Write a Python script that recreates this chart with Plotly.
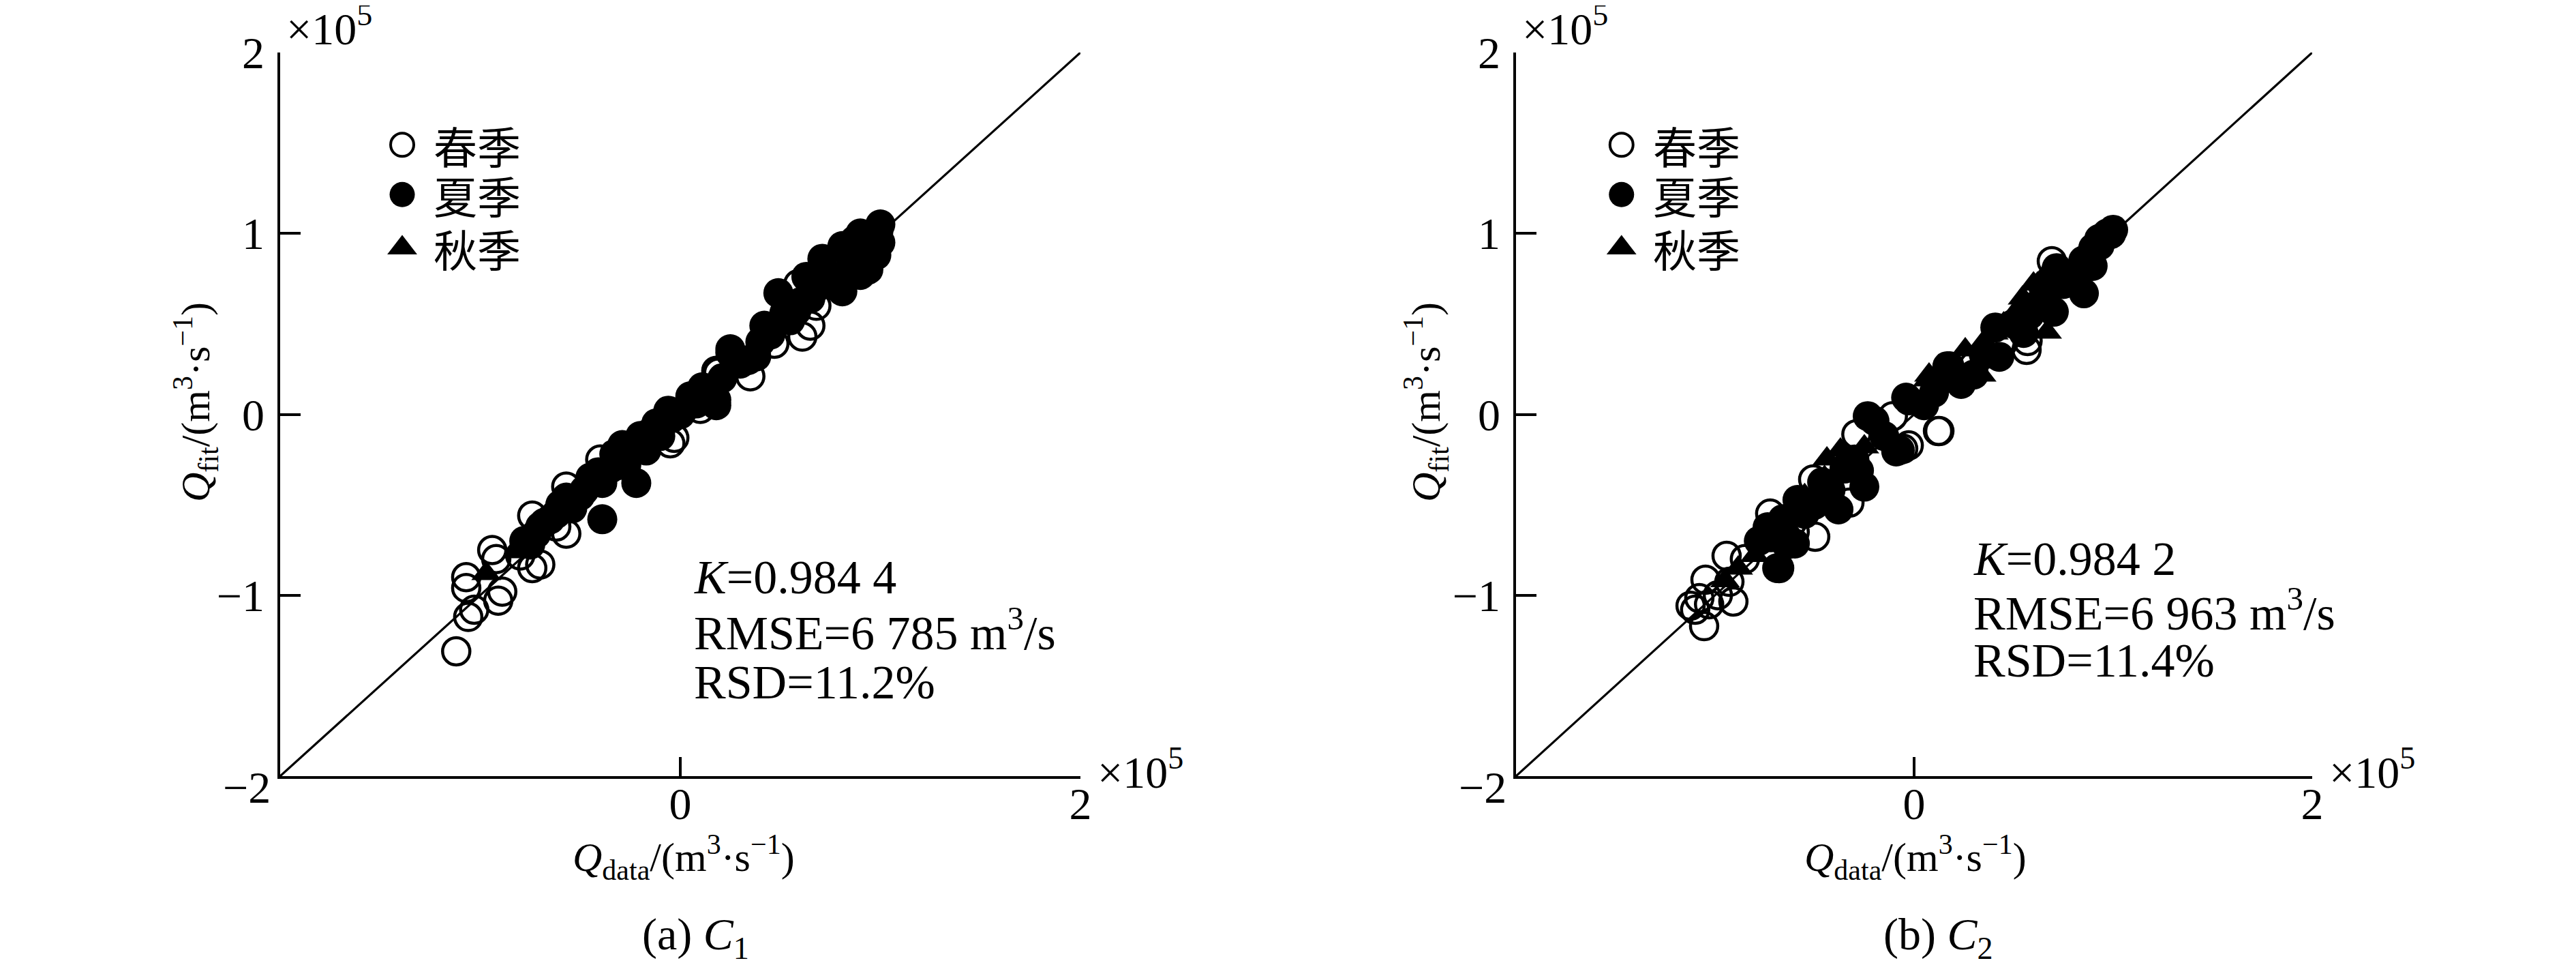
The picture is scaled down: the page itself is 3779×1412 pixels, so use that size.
import plotly.graph_objects as go

W, H = 3779, 1412
OFF = 8  # page body margin in the browser


def px(xp):
    return (xp - OFF) / W


def py(yp):
    return 1 - (yp - OFF) / H


# 1:1 fitting line, units 1e5 m3/s
fit_x = [-2, -1.5, -1, -0.5, 0, 0.5, 1, 1.5, 2]
fit_y = [-2, -1.5, -1, -0.5, 0, 0.5, 1, 1.5, 2]

seasons = ["春季", "夏季", "秋季"]

# ---- (a) C1 ----
a_spring_x = [-1.12, -1.07, -1.07, -1.06, -1.03, -0.94, -0.92, -0.89, -0.91, -0.74, -0.74, -0.70, -0.57, -0.57,
              -0.40, -0.05, 0.19, 0.10, 0.61, 0.65, 0.35, -0.03, 0.01, 0.47, 0.18, 0.59, 0.68, 0.80, -0.80, -0.62]
a_spring_y = [-1.31, -0.90, -0.96, -1.12, -1.08, -0.75, -0.80, -0.98, -1.03, -0.56, -0.85, -0.83, -0.66, -0.40,
              -0.25, -0.16, 0.23, 0.03, 0.43, 0.49, 0.21, -0.13, 0.02, 0.39, 0.24, 0.72, 0.60, 0.80, -0.78, -0.62]
a_summer_x = [-0.78, -0.72, -0.65, -0.57, -0.54, -0.41, -0.39, -0.39, -0.29, -0.22, -0.17, -0.12, -0.04, -0.06,
              0.11, 0.11, 0.18, 0.18, 0.25, 0.25, 0.38, 0.42, 0.49, 0.58, 0.63, 0.65, 0.71, 0.81, 0.81, 0.89,
              0.90, 0.90, 0.97, 0.99, 1.00, 0.95, 0.85, 0.75, 0.55, -0.30, -0.48, -0.60, -0.70, 0.30, 0.05,
              -0.10, 0.98, 0.93,
              -0.75, -0.68, -0.62, -0.50, -0.45, -0.35, -0.33, -0.27, -0.20, -0.15, 0.00, 0.08, 0.14, 0.21,
              0.34, 0.40, 0.45, 0.52, 0.60, 0.68, 0.73, 0.78, 0.84, 0.87, 0.92, 0.96, 1.00, 0.94]
a_summer_y = [-0.70, -0.66, -0.58, -0.46, -0.52, -0.32, -0.38, -0.58, -0.17, -0.38, -0.20, -0.05, -0.02, 0.02,
              0.12, 0.15, 0.05, 0.08, 0.34, 0.36, 0.32, 0.49, 0.67, 0.57, 0.76, 0.64, 0.86, 0.93, 0.68, 0.82,
              0.77, 1.00, 0.91, 1.01, 1.05, 0.95, 0.80, 0.72, 0.52, -0.28, -0.42, -0.50, -0.62, 0.28, 0.10,
              -0.12, 0.88, 0.85,
              -0.72, -0.60, -0.55, -0.45, -0.35, -0.30, -0.22, -0.28, -0.12, -0.10, 0.00, 0.06, 0.10, 0.20,
              0.30, 0.40, 0.44, 0.56, 0.62, 0.70, 0.78, 0.74, 0.90, 0.96, 0.92, 1.00, 0.95, 0.80]
a_autumn_x = [-0.97, -0.82, -0.62, -0.45, -0.25, 0.02, 0.32, 0.55, 0.72, 0.85]
a_autumn_y = [-0.88, -0.76, -0.55, -0.40, -0.22, 0.04, 0.30, 0.55, 0.70, 0.87]
a_stats = ["<i>K</i>=0.984 4", "RMSE=6 785 m<sup>3</sup>/s", "RSD=11.2%"]

# ---- (b) C2 ----
b_spring_x = [-1.055, -1.123, -1.048, -0.942, -0.928, -0.908, -1.079, -0.986, -1.10, -1.03, -0.723, -0.678,
              -0.507, -0.325, -0.497, -0.29, -0.055, 0.12, -0.107, 0.127, 0.565, 0.692, -0.027, 0.57, 0.30,
              -0.60, -0.85, 0.45]
b_spring_y = [-1.171, -1.058, -0.914, -0.782, -0.926, -1.035, -1.016, -1.00, -1.08, -1.05, -0.549, -0.85,
              -0.36, -0.488, -0.677, -0.11, -0.19, -0.092, -0.01, -0.092, 0.356, 0.846, -0.172, 0.405, 0.27,
              -0.65, -0.80, 0.40]
b_summer_x = [-0.233, -0.04, -0.277, -0.586, -0.599, -0.688, -0.736, -0.78, 0.178, -0.462, -0.38, 0.99, 0.932,
              0.897, 0.853, 0.716, 0.702, 0.408, 0.167, 0.236, -0.027, -0.072, -0.199, 0.428, 0.60, 0.95, 1.0,
              0.80, 0.65, 0.55, -0.55, -0.64, -0.30, -0.25, 0.30, 0.05, -0.09,
              -0.72, -0.66, -0.50, -0.42, -0.35, -0.15, 0.10, 0.20, 0.35, 0.50, 0.58, 0.66, 0.75, 0.85, 0.90,
              0.97, 0.93]
b_summer_y = [-0.01, 0.092, -0.311, -0.473, -0.714, -0.85, -0.624, -0.70, 0.266, -0.375, -0.526, 0.997, 0.933,
              0.82, 0.669, 0.808, 0.567, 0.48, 0.266, 0.168, 0.077, -0.198, -0.036, 0.318, 0.594, 0.98, 1.02,
              0.75, 0.70, 0.45, -0.55, -0.72, -0.25, -0.40, 0.22, 0.05, -0.205,
              -0.68, -0.58, -0.50, -0.42, -0.30, -0.12, 0.12, 0.20, 0.33, 0.50, 0.55, 0.62, 0.72, 0.85, 0.92,
              1.00, 0.97]
b_autumn_x = [-0.884, -0.438, -0.37, 0.075, 0.257, 0.339, 0.068, 0.545, 0.60, 0.668, -0.80, -0.65, -0.55, 0.45,
              0.70, -0.95, 0.35, 0.62, 0.68, -0.75, -0.45, -0.25, 0.15, 0.40, 0.52]
b_autumn_y = [-0.85, -0.247, -0.198, 0.217, 0.356, 0.217, 0.19, 0.643, 0.72, 0.454, -0.78, -0.60, -0.45, 0.50,
              0.78, -0.92, 0.40, 0.72, 0.80, -0.70, -0.35, -0.18, 0.18, 0.45, 0.58]
b_stats = ["<i>K</i>=0.984 2", "RMSE=6 963 m<sup>3</sup>/s", "RSD=11.4%"]

x_ticks = [0, 2]
x_ticktext = ["0", "2"]
y_ticks = [-1, 0, 1, 2]
y_ticktext = ["\u22121", "0", "1", "2"]

SERIF = "Liberation Serif, Times New Roman, serif"
CJK = "Noto Sans CJK SC"
FS = 66
FT = 60  # axis titles

spring_m = dict(symbol="circle-open", size=40, color="black", line=dict(width=4.5, color="black"))
summer_m = dict(symbol="circle", size=44, color="black")
autumn_m = dict(symbol="triangle-up", size=38, color="black")

fig = go.Figure()
annotations = []

panels = [
    dict(xa="x", ya="y", sp=(a_spring_x, a_spring_y), su=(a_summer_x, a_summer_y), au=(a_autumn_x, a_autumn_y),
         stats=a_stats, stats_x=0.06, stats_y=[-0.90, -1.19, -1.48], leg_x=-1.39, leg_tx=-1.24,
         ytitle_x=287, xtitle_x=1003, cap_x=1020, cap="(a) <i>C</i><sub>1</sub>", x0=411, x1=1585),
    dict(xa="x2", ya="y2", sp=(b_spring_x, b_spring_y), su=(b_summer_x, b_summer_y), au=(b_autumn_x, b_autumn_y),
         stats=b_stats, stats_x=0.29, stats_y=[-0.80, -1.08, -1.36], leg_x=-1.47, leg_tx=-1.32,
         ytitle_x=2092, xtitle_x=2810, cap_x=2843, cap="(b) <i>C</i><sub>2</sub>", x0=2224, x1=3392),
]

leg_y = [1.49, 1.215, 0.92]

for p in panels:
    xa, ya = p["xa"], p["ya"]
    fig.add_trace(go.Scatter(x=fit_x, y=fit_y, mode="lines", line=dict(color="black", width=3.2),
                             xaxis=xa, yaxis=ya, showlegend=False, hoverinfo="skip"))
    fig.add_trace(go.Scatter(x=p["sp"][0], y=p["sp"][1], mode="markers", marker=spring_m,
                             xaxis=xa, yaxis=ya, name=seasons[0], showlegend=False))
    fig.add_trace(go.Scatter(x=p["su"][0], y=p["su"][1], mode="markers", marker=summer_m,
                             xaxis=xa, yaxis=ya, name=seasons[1], showlegend=False))
    fig.add_trace(go.Scatter(x=p["au"][0], y=p["au"][1], mode="markers", marker=autumn_m,
                             xaxis=xa, yaxis=ya, name=seasons[2], showlegend=False))

    # hand-drawn legend
    leg_markers = [dict(symbol="circle-open", size=34, color="black", line=dict(width=4, color="black")),
                   dict(symbol="circle", size=37, color="black"),
                   dict(symbol="triangle-up", size=38, color="black")]
    for i in range(3):
        fig.add_trace(go.Scatter(x=[p["leg_x"]], y=[leg_y[i]], mode="markers", marker=leg_markers[i],
                                 xaxis=xa, yaxis=ya, showlegend=False, hoverinfo="skip", cliponaxis=False))
        annotations.append(dict(x=p["leg_tx"], y=leg_y[i], xref=xa, yref=ya, text=seasons[i],
                                xanchor="left", yanchor="middle", showarrow=False,
                                font=dict(family=CJK, size=64, color="black")))

    for t, yy in zip(p["stats"], p["stats_y"]):
        annotations.append(dict(x=p["stats_x"], y=yy, xref=xa, yref=ya, text=t, xanchor="left",
                                yanchor="middle", showarrow=False, font=dict(family=SERIF, size=70, color="black")))

    # -2 label on x axis sits left of the corner
    annotations.append(dict(x=-2, y=-2, xref=xa, yref=ya, text="\u22122", xanchor="right", yanchor="top",
                            xshift=-12, yshift=22, showarrow=False,
                            font=dict(family=SERIF, size=FS, color="black")))

    annotations.append(dict(x=px(p["ytitle_x"]), y=py(590), xref="paper", yref="paper",
                            text="<i>Q</i><sub>fit</sub>/(m<sup>3</sup>·s<sup>\u22121</sup>)", textangle=-90,
                            showarrow=False, xanchor="center", yanchor="middle",
                            font=dict(family=SERIF, size=FT, color="black")))
    annotations.append(dict(x=px(p["xtitle_x"]), y=py(1257), xref="paper", yref="paper",
                            text="<i>Q</i><sub>data</sub>/(m<sup>3</sup>·s<sup>\u22121</sup>)",
                            showarrow=False, xanchor="center", yanchor="middle",
                            font=dict(family=SERIF, size=FT, color="black")))
    annotations.append(dict(x=px(p["cap_x"]), y=py(1374), xref="paper", yref="paper", text=p["cap"],
                            showarrow=False, xanchor="center", yanchor="middle",
                            font=dict(family=SERIF, size=FS, color="black")))
    # exponent labels
    annotations.append(dict(x=px(p["x0"] + 7), y=py(38), xref="paper", yref="paper",
                            text="\u00d710<sup>5</sup>", showarrow=False, xanchor="left", yanchor="middle",
                            font=dict(family=SERIF, size=FS, color="black")))
    annotations.append(dict(x=px(p["x1"] + 23), y=py(1127), xref="paper", yref="paper",
                            text="\u00d710<sup>5</sup>", showarrow=False, xanchor="left", yanchor="middle",
                            font=dict(family=SERIF, size=FS, color="black")))

ydom = [py(1138), py(77)]
xax = dict(range=[-2, 2], showline=True, linecolor="black", linewidth=3.5, ticks="inside", ticklen=28,
           tickwidth=3.5, tickcolor="black", tickvals=x_ticks, ticktext=x_ticktext, showgrid=False,
           zeroline=False, tickfont=dict(family=SERIF, size=FS, color="black"), ticklabelstandoff=-20,
           automargin=False, fixedrange=True)
yax = dict(range=[-2, 2], showline=True, linecolor="black", linewidth=3.5, ticks="inside", ticklen=30,
           tickwidth=3.5, tickcolor="black", tickvals=y_ticks, ticktext=y_ticktext, showgrid=False,
           zeroline=False, tickfont=dict(family=SERIF, size=FS, color="black"), ticklabelstandoff=6,
           domain=ydom, automargin=False, fixedrange=True)

fig.update_layout(
    width=W, height=H,
    margin=dict(l=0, r=0, t=0, b=0, pad=0, autoexpand=False),
    paper_bgcolor="white", plot_bgcolor="white",
    showlegend=False,
    xaxis=dict(xax, domain=[px(411), px(1585)], anchor="y"),
    yaxis=dict(yax, anchor="x"),
    xaxis2=dict(xax, domain=[px(2224), px(3392)], anchor="y2"),
    yaxis2=dict(yax, anchor="x2"),
    annotations=annotations,
)

fig.write_html("out.html", config={"displayModeBar": False})
